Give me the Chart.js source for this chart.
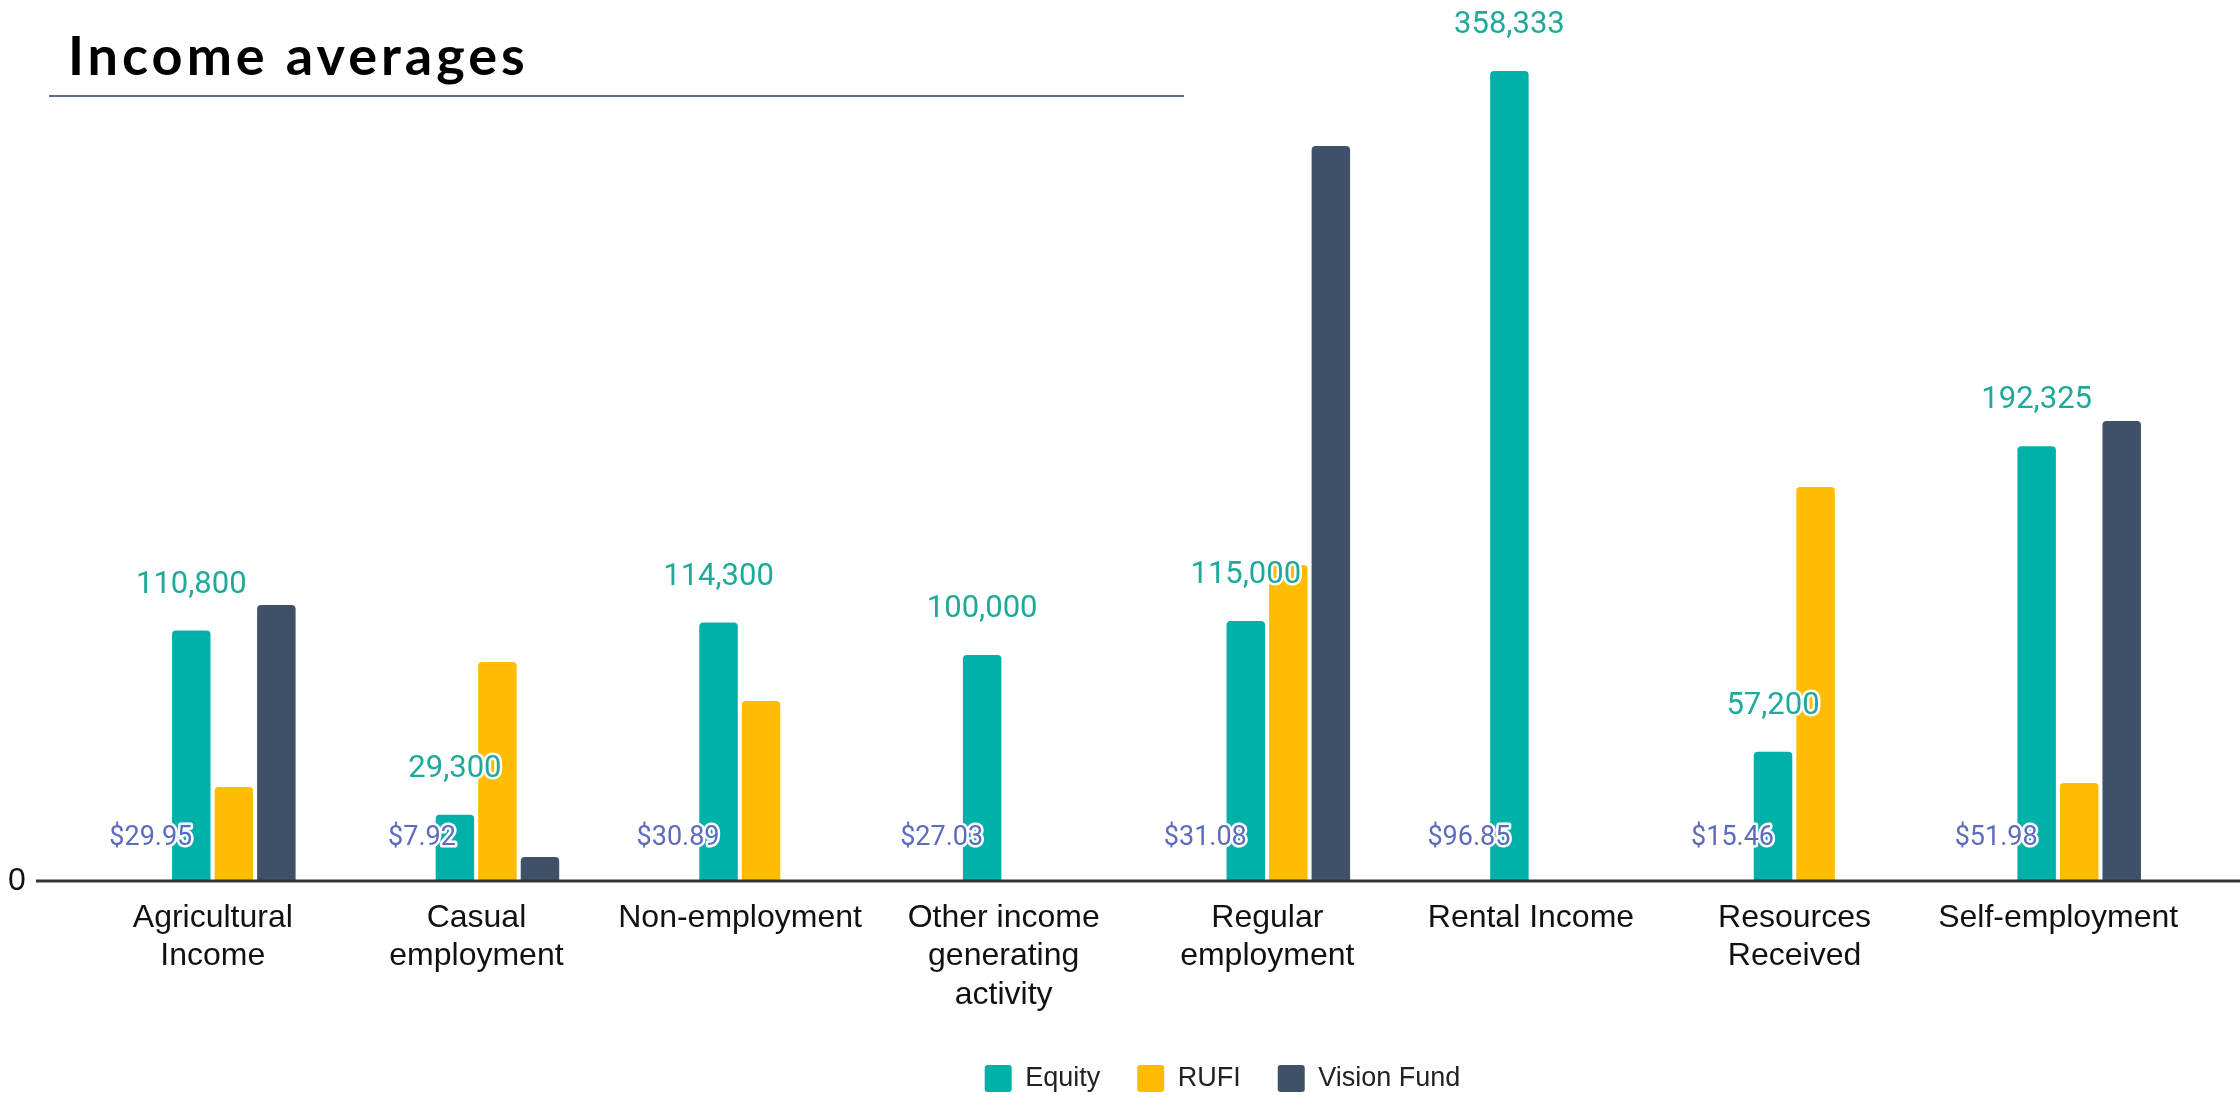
<!DOCTYPE html>
<html>
<head>
<meta charset="utf-8">
<title>Income averages</title>
<script src="https://cdn.jsdelivr.net/npm/chart.js@4.4.1/dist/chart.umd.min.js"></script>
<style>
  html, body { margin: 0; padding: 0; background: #fff; }
  #wrap { position: relative; width: 2240px; height: 1095px; overflow: hidden; }
  #chart { position: absolute; left: 0; top: 0; }
  #title { position: absolute; left: 68px; top: 28px; margin: 0; font: 700 54px Lato, sans-serif; letter-spacing: 4px; line-height: 54px; color: #000; }
  #rule { position: absolute; left: 49px; top: 95px; width: 1135px; height: 2px; background: #5f6e8a; }
</style>
</head>
<body>
<div id="wrap">
  <canvas id="chart" width="2240" height="1095"></canvas>
  <h1 id="title">Income averages</h1>
  <div id="rule"></div>
</div>
<script>
var categories = [
  ["Agricultural", "Income"],
  ["Casual", "employment"],
  "Non-employment",
  ["Other income", "generating", "activity"],
  ["Regular", "employment"],
  "Rental Income",
  ["Resources", "Received"],
  "Self-employment"
];
var equity     = [110800, 29300, 114300, 100000, 115000, 358333, 57200, 192325];
var rufi       = [41600, 96900, 79600, null, 139800, null, 174300, 43400];
var visionFund = [122100, 10600, null, null, 325100, null, null, 203500];
var equityUsd  = [29.95, 7.92, 30.89, 27.03, 31.08, 96.85, 15.46, 51.98];
var yTicks = [0];

// baseline across the whole width, under the labels
var baseline = {
  id: 'baseline',
  afterDatasetsDraw: function(chart) {
    var ctx = chart.ctx;
    var y0 = chart.scales.y.getPixelForValue(0);
    ctx.save();
    ctx.strokeStyle = '#333333';
    ctx.lineWidth = 3;
    ctx.beginPath();
    ctx.moveTo(36, y0);
    ctx.lineTo(chart.width, y0);
    ctx.stroke();
    ctx.restore();
  }
};

// equity totals over the bars and the $ figure near the base
var valueLabels = {
  id: 'valueLabels',
  afterDatasetsDraw: function(chart) {
    var ctx = chart.ctx;
    var meta = chart.getDatasetMeta(0);
    var y0 = chart.scales.y.getPixelForValue(0);
    ctx.save();
    ctx.lineJoin = 'round';
    ctx.strokeStyle = '#ffffff';
    ctx.lineWidth = 5;
    meta.data.forEach(function(bar, i) {
      var txt = equity[i].toLocaleString('en-US');
      ctx.font = '31px Roboto';
      ctx.textAlign = 'center';
      ctx.textBaseline = 'alphabetic';
      ctx.strokeText(txt, bar.x, bar.y - 38);
      ctx.fillStyle = '#1fa99b';
      ctx.fillText(txt, bar.x, bar.y - 38);

      var usd = '$' + equityUsd[i].toFixed(2);
      ctx.font = '27px Roboto';
      ctx.textAlign = 'right';
      ctx.textBaseline = 'middle';
      ctx.strokeText(usd, bar.x + 1, y0 - 43);
      ctx.fillStyle = '#5c6bc0';
      ctx.fillText(usd, bar.x + 1, y0 - 43);
    });
    ctx.restore();
  }
};

// legend sits a little right of centre and slightly lower
var legendShift = {
  id: 'legendShift',
  afterLayout: function(chart) {
    var lg = chart.legend;
    lg.left = 234;
    lg.top += 4;
    lg.bottom += 4;
  }
};

var barStyle = {
  categoryPercentage: 0.484,
  barPercentage: 0.905,
  borderRadius: { topLeft: 4, topRight: 4 },
  borderSkipped: 'bottom'
};

new Chart(document.getElementById('chart'), {
  type: 'bar',
  data: {
    labels: categories,
    datasets: [
      Object.assign({ label: 'Equity', data: equity, backgroundColor: '#00b1a9' }, barStyle),
      Object.assign({ label: 'RUFI', data: rufi, backgroundColor: '#ffbc00' }, barStyle),
      Object.assign({ label: 'Vision Fund', data: visionFund, backgroundColor: '#3f5168' }, barStyle)
    ]
  },
  options: {
    responsive: false,
    animation: false,
    devicePixelRatio: 1,
    layout: { padding: { top: 22, right: 29, left: 8, bottom: -3 } },
    plugins: {
      title: { display: false },
      tooltip: { enabled: false },
      legend: {
        position: 'bottom',
        labels: {
          boxWidth: 27,
          boxHeight: 27,
          padding: 37,
          useBorderRadius: true,
          borderRadius: 3,
          color: '#222222',
          font: { family: 'Liberation Sans', size: 27, lineHeight: 1 }
        }
      }
    },
    scales: {
      x: {
        grid: { display: false, drawTicks: false },
        border: { display: false },
        ticks: {
          padding: 18,
          labelOffset: -21,
          autoSkip: false,
          maxRotation: 0,
          color: '#111111',
          font: { family: 'Liberation Sans', size: 32, lineHeight: 1.2 }
        },
        afterFit: function(scale) { scale.height = 143; }
      },
      y: {
        min: 0,
        max: 380000,
        grid: { display: false, drawTicks: false },
        border: { display: false },
        afterBuildTicks: function(scale) {
          scale.ticks = yTicks.map(function(v) { return { value: v }; });
        },
        ticks: {
          padding: 0,
          crossAlign: 'far',
          color: '#111111',
          font: { family: 'Liberation Sans', size: 32 }
        },
        afterFit: function(scale) { scale.width = 94; }
      }
    }
  },
  plugins: [baseline, valueLabels, legendShift]
});
</script>
</body>
</html>
